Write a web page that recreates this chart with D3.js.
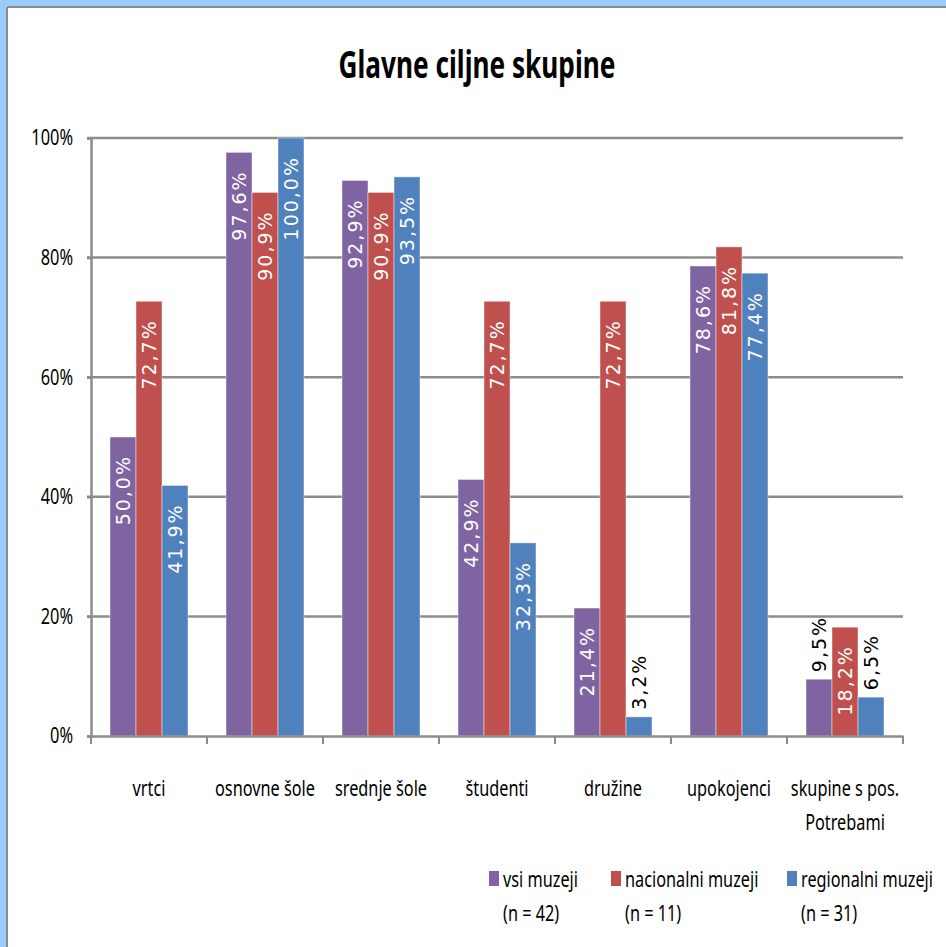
<!DOCTYPE html>
<html>
<head>
<meta charset="utf-8">
<script src="https://cdn.jsdelivr.net/npm/d3@7"></script>
<style>
  html, body { margin: 0; padding: 0; background: #fff; }
  svg { display: block; }
</style>
</head>
<body>
<svg id="chart" width="946" height="947"></svg>
<script>
// Target groups by museum type (percent of museums)
const categories = ["vrtci", "osnovne šole", "srednje šole", "študenti", "družine", "upokojenci", "skupine s pos.\nPotrebami"];
const seriesNames = ["vsi muzeji", "nacionalni muzeji", "regionalni muzeji"];
const seriesCounts = ["(n = 42)", "(n = 11)", "(n = 31)"];
const vsiMuzeji = [50.0, 97.6, 92.9, 42.9, 21.4, 78.6, 9.5];
const nacionalniMuzeji = [72.7, 90.9, 90.9, 72.7, 72.7, 81.8, 18.2];
const regionalniMuzeji = [41.9, 100.0, 93.5, 32.3, 3.2, 77.4, 6.5];
const yTicks = [0, 20, 40, 60, 80, 100];
const colors = ["#8064A2", "#C0504D", "#4F81BD"];

const series = [vsiMuzeji, nacionalniMuzeji, regionalniMuzeji];
const W = 946, H = 947;
const svg = d3.select("#chart");
const uiFont = "'Noto Sans', 'Open Sans', sans-serif";
const NARROW = 0.74; // horizontal squeeze for the condensed UI text

// places a condensed text at (x, y)
function narrowText(parent, x, y, str, opts = {}) {
  const g = parent.append("g").attr("transform", `translate(${x},${y}) scale(${opts.sx || NARROW},1)`);
  return g.append("text")
    .attr("font-family", uiFont)
    .attr("font-size", opts.size || 22)
    .attr("font-weight", opts.weight || "normal")
    .attr("text-anchor", opts.anchor || "start")
    .attr("dy", opts.dy || 0)
    .attr("fill", "#000")
    .text(str);
}

// frame: light blue band with grey inner edge on top and left
svg.append("rect").attr("x", 0).attr("y", 0).attr("width", W).attr("height", 6).attr("fill", "#99CCFF");
svg.append("rect").attr("x", 0).attr("y", 0).attr("width", 6).attr("height", H).attr("fill", "#99CCFF");
svg.append("line").attr("x1", 7).attr("x2", W).attr("y1", 7).attr("y2", 7).attr("stroke", "#8c8c8c").attr("stroke-width", 2);
svg.append("line").attr("x1", 7).attr("x2", 7).attr("y1", 7).attr("y2", H).attr("stroke", "#8c8c8c").attr("stroke-width", 2);

// title
narrowText(svg, 477, 78, "Glavne ciljne skupine", { size: 38, weight: "bold", anchor: "middle", sx: 0.69 });

const plotLeft = 91, plotRight = 903, plotTop = 138, plotBottom = 736;

const x = d3.scaleBand().domain(categories).range([plotLeft, plotRight]).paddingInner(0).paddingOuter(0);
const bandPad = 19; // space between band edge and bar group
const xs = d3.scaleBand().domain(d3.range(series.length))
  .range([0, x.bandwidth() - 2 * bandPad]).padding(0);
const y = d3.scaleLinear().domain([0, 100]).range([plotBottom, plotTop]);

// gridlines
svg.append("g").selectAll("line").data(yTicks.filter(d => d > 0)).join("line")
  .attr("x1", plotLeft - 4).attr("x2", plotRight)
  .attr("y1", d => y(d)).attr("y2", d => y(d))
  .attr("stroke", "#8c8c8c").attr("stroke-width", 2.5);

// y axis
const yAxis = d3.axisLeft(y).tickValues(yTicks).tickSize(4).tickFormat("");
const gy = svg.append("g").attr("transform", `translate(${plotLeft},0)`).call(yAxis);
gy.select(".domain").attr("stroke", "#8c8c8c").attr("stroke-width", 2.5);
gy.selectAll(".tick line").attr("stroke", "#8c8c8c").attr("stroke-width", 2.5);
const yLabels = svg.append("g");
yTicks.forEach(t => narrowText(yLabels, 73, y(t), t + "%", { anchor: "end", dy: "0.35em", size: 21, sx: 0.78 }));

// bars
const groups = svg.append("g").selectAll("g").data(categories).join("g")
  .attr("transform", d => `translate(${x(d) + bandPad},0)`);

groups.each(function(cat, ci) {
  const g = d3.select(this);
  series.forEach((vals, si) => {
    const v = vals[ci];
    g.append("rect")
      .attr("x", xs(si)).attr("width", xs.bandwidth())
      .attr("y", y(v)).attr("height", y(0) - y(v))
      .attr("fill", colors[si])
      .attr("stroke", "rgba(255,255,255,0.45)").attr("stroke-width", 1);
  });
});

// data labels (rotated); placed inside the bar top when they fit, otherwise above it
const labelFont = "'DejaVu Sans', Verdana, sans-serif";
groups.each(function(cat, ci) {
  const g = d3.select(this);
  series.forEach((vals, si) => {
    const v = vals[ci];
    const txt = d3.format(".1f")(v).replace(".", ",") + "%";
    const cx = xs(si) + xs.bandwidth() / 2;
    const t = g.append("text")
      .attr("font-family", labelFont)
      .attr("font-size", 19)
      .attr("letter-spacing", 2)
      .attr("dominant-baseline", "central")
      .text(txt);
    const len = t.node().getComputedTextLength();
    const barH = y(0) - y(v);
    if (barH >= len + 24) {
      t.attr("text-anchor", "end").attr("fill", "#fff")
        .attr("transform", `translate(${cx},${y(v) + 18}) rotate(-90)`);
    } else {
      t.attr("text-anchor", "start").attr("fill", "#000")
        .attr("transform", `translate(${cx},${y(v) - 7}) rotate(-90)`);
    }
  });
});

// x axis
const xAxis = d3.axisBottom(x).tickSize(0).tickFormat("");
const gx = svg.append("g").attr("transform", `translate(0,${plotBottom})`).call(xAxis);
gx.select(".domain").attr("stroke", "#8c8c8c").attr("stroke-width", 2.5);
gx.selectAll(".tick").remove();
// category boundary ticks
const bounds = categories.map(c => x(c)).concat([plotRight]);
svg.append("g").selectAll("line").data(bounds).join("line")
  .attr("x1", d => d).attr("x2", d => d)
  .attr("y1", plotBottom).attr("y2", plotBottom + 8)
  .attr("stroke", "#8c8c8c").attr("stroke-width", 2);

// category labels
const catLabels = svg.append("g");
categories.forEach(c => {
  c.split("\n").forEach((line, i) => {
    narrowText(catLabels, x(c) + x.bandwidth() / 2, 796 + i * 34, line, { anchor: "middle" });
  });
});

// legend
const legendX = [489, 611, 787];
const legend = svg.append("g");
seriesNames.forEach((name, i) => {
  legend.append("rect").attr("x", legendX[i]).attr("y", 871).attr("width", 10).attr("height", 15)
    .attr("fill", colors[i]);
  narrowText(legend, legendX[i] + 14, 887, name);
  narrowText(legend, legendX[i] + 14, 921, seriesCounts[i]);
});
</script>
</body>
</html>
